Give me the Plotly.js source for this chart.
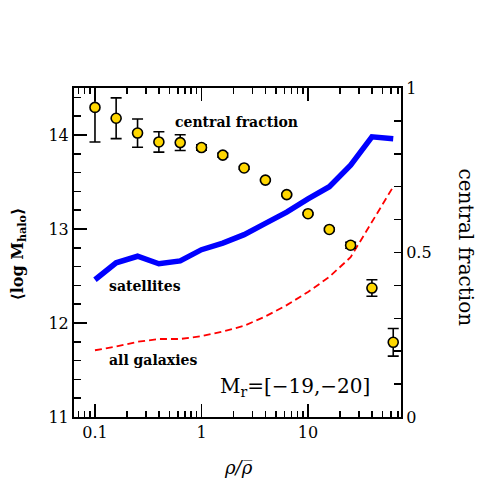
<!DOCTYPE html>
<html>
<head>
<meta charset="utf-8">
<script src="https://cdn.plot.ly/plotly-3.0.1.min.js"></script>
<style>
  html, body { margin: 0; padding: 0; background: #fff; }
  #chart { width: 491px; height: 491px; }
</style>
</head>
<body>
<div id="chart"></div>
<script>
'use strict';

// density bins, rho / rho_bar
const density = [0.1, 0.158, 0.251, 0.398, 0.631, 1.0, 1.585, 2.512, 3.981, 6.31, 10.0, 15.85, 25.12, 39.81, 63.1];

// <log M_halo> (left axis)
const satellites = [12.46, 12.64, 12.71, 12.63, 12.66, 12.78, 12.85, 12.94, 13.06, 13.18, 13.32, 13.45, 13.68, 13.98, 13.96];
const allGalaxies = [11.71, 11.75, 11.80, 11.83, 11.83, 11.86, 11.91, 11.97, 12.07, 12.19, 12.33, 12.49, 12.70, 13.07, 13.45];

// central fraction (right axis)
const centralFrac = [0.941, 0.908, 0.863, 0.836, 0.834, 0.819, 0.796, 0.757, 0.720, 0.676, 0.618, 0.570, 0.522, 0.392, 0.227];
const centralErr = [0.105, 0.062, 0.043, 0.031, 0.024, 0.008, 0.006, 0.004, 0.003, 0.003, 0.003, 0.004, 0.009, 0.025, 0.042];

const xMinor = [0.07, 0.08, 0.09, 0.2, 0.3, 0.4, 0.5, 0.6, 0.7, 0.8, 0.9,
  2, 3, 4, 5, 6, 7, 8, 9, 20, 30, 40, 50, 60, 70];

const SERIF = '"DejaVu Serif", "Liberation Serif", serif';

const traces = [
  {
    x: density, y: allGalaxies, type: 'scatter', mode: 'lines',
    line: { color: '#ff0000', width: 1.8, dash: '7px,4px' },
    hoverinfo: 'skip',
  },
  {
    x: density, y: satellites, type: 'scatter', mode: 'lines',
    line: { color: '#0000ff', width: 5.5 },
    hoverinfo: 'skip',
  },
  {
    x: density, y: centralFrac, yaxis: 'y2', type: 'scatter', mode: 'markers',
    marker: { color: '#ffd700', size: 10, line: { color: '#000', width: 1.6 } },
    error_y: { type: 'data', array: centralErr, visible: true, color: '#000', thickness: 1.6, width: 5.5 },
    hoverinfo: 'skip',
  },
];

const tickStyle = { ticks: 'inside', tickcolor: '#000', tickwidth: 1.5, showline: true, linecolor: '#000', linewidth: 2, showgrid: false, zeroline: false };

// paper-anchored text helper
function note(text, x, y, size, extra) {
  return Object.assign({ text, xref: 'paper', yref: 'paper', x, y, xanchor: 'center', yanchor: 'middle',
    showarrow: false, font: { family: SERIF, size, color: '#000' } }, extra || {});
}

const layout = {
  width: 491, height: 491,
  margin: { l: 74, r: 90, t: 88, b: 74 },
  paper_bgcolor: '#fff', plot_bgcolor: '#fff',
  showlegend: false,
  font: { family: SERIF, size: 16, color: '#000' },
  xaxis: Object.assign({}, tickStyle, {
    type: 'log', range: [-1.197, 1.873],
    tickvals: [0.1, 1, 10], ticktext: ['0.1', '1', '10'],
    ticklen: 13, mirror: 'ticks',
    minor: { tickvals: xMinor, ticks: 'inside', ticklen: 6, tickcolor: '#000', tickwidth: 1.5 },
    tickfont: { family: SERIF, size: 16 },
  }),
  yaxis: Object.assign({}, tickStyle, {
    range: [11, 14.5], dtick: 1, tick0: 11, ticklen: 13,
    minor: { dtick: 0.2, ticks: 'inside', ticklen: 7, tickcolor: '#000', tickwidth: 1.5 },
    tickfont: { family: SERIF, size: 16 },
  }),
  yaxis2: Object.assign({}, tickStyle, {
    overlaying: 'y', side: 'right', range: [0, 1],
    tickvals: [0, 0.5, 1], ticktext: ['0', '0.5', '1'], ticklen: 7,
    minor: { dtick: 0.1, ticks: 'inside', ticklen: 7, tickcolor: '#000', tickwidth: 1.5 },
    tickfont: { family: SERIF, size: 16 },
  }),
  annotations: [
    note('<b>⟨log M<sub>halo</sub>⟩</b>', -0.171, 0.494, 16, { textangle: -90 }),
    note('central fraction', 1.199, 0.515, 20, { textangle: 90 }),
    note('<i>ρ/ρ̅</i>', 0.502, -0.155, 18),
    note('<b>central fraction</b>', 0.303, 0.897, 14, { xanchor: 'left' }),
    note('<b>satellites</b>', 0.101, 0.397, 14, { xanchor: 'left' }),
    note('<b>all galaxies</b>', 0.101, 0.172, 14, { xanchor: 'left' }),
    note('M<sub>r</sub>=[−19,−20]', 0.44, 0.092, 20, { xanchor: 'left' }),
  ],
};

Plotly.newPlot('chart', traces, layout, { staticPlot: true, displayModeBar: false });
</script>
</body>
</html>
